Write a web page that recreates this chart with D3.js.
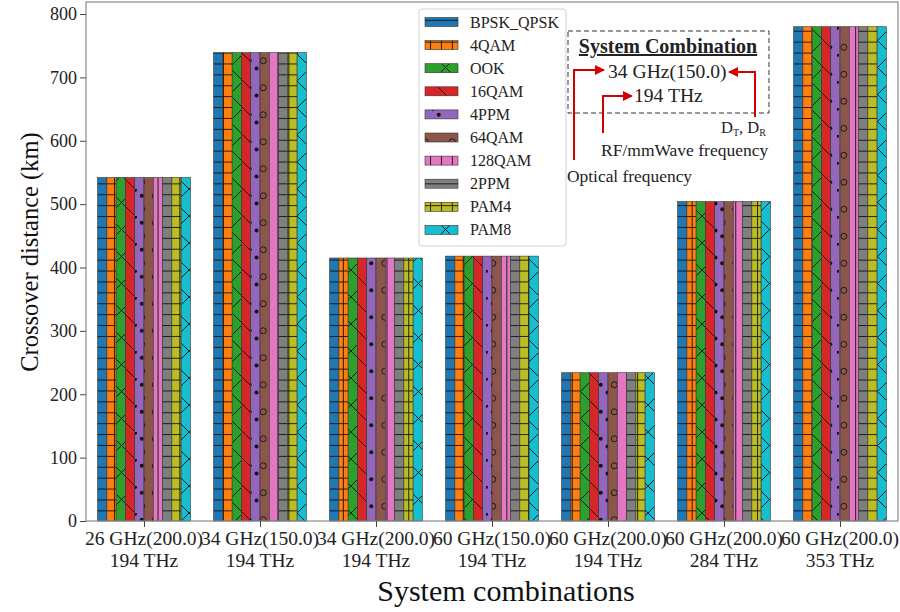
<!DOCTYPE html>
<html>
<head>
<meta charset="utf-8">
<script src="https://cdn.jsdelivr.net/npm/d3@7"></script>
<style>
  html, body { margin: 0; padding: 0; background: #fff; }
  svg { display: block; font-family: "Liberation Serif", "Times New Roman", serif; }
</style>
</head>
<body>
<svg id="chart" width="900" height="612"></svg>
<script>
// System combinations (two-line tick labels)
const combosTop = ["26 GHz(200.0)", "34 GHz(150.0)", "34 GHz(200.0)", "60 GHz(150.0)", "60 GHz(200.0)", "60 GHz(200.0)", "60 GHz(200.0)"];
const combosBottom = ["194 THz", "194 THz", "194 THz", "194 THz", "194 THz", "284 THz", "353 THz"];

// Modulation formats
const formats = ["BPSK_QPSK", "4QAM", "OOK", "16QAM", "4PPM", "64QAM", "128QAM", "2PPM", "PAM4", "PAM8"];
const formatColors = ["#1f77b4", "#ff7f0e", "#2ca02c", "#d62728", "#9467bd", "#8c564b", "#e377c2", "#7f7f7f", "#bcbd22", "#17becf"];
const formatHatches = ["-", "+", "x", "\\", ".", "o", "|", "-", "+", "x"];

// Crossover distance (km) per combination, one row per format
const crossover = [
  [542, 739, 415, 418, 234, 504, 780],
  [542, 739, 415, 418, 234, 504, 780],
  [542, 739, 415, 418, 234, 504, 780],
  [542, 739, 415, 418, 234, 504, 780],
  [542, 739, 415, 418, 234, 504, 780],
  [542, 739, 415, 418, 234, 504, 780],
  [542, 739, 415, 418, 234, 504, 780],
  [542, 739, 415, 418, 234, 504, 780],
  [542, 739, 415, 418, 234, 504, 780],
  [542, 739, 415, 418, 234, 504, 780]
];

const yTicks = [0, 100, 200, 300, 400, 500, 600, 700, 800];

const svg = d3.select("#chart");
const margin = { left: 86, right: 2, top: 2, bottom: 91 };
const W = 900, H = 612;
const plotW = W - margin.left - margin.right;
const plotH = H - margin.top - margin.bottom;

const x = d3.scaleLinear().domain([-0.5, combosTop.length - 0.5]).range([margin.left, margin.left + plotW]);
const y = d3.scaleLinear().domain([0, 819]).range([margin.top + plotH, margin.top]);
const barW = 0.08;

// Hatch patterns, aligned to the page so neighbouring bars share the grid
const defs = svg.append("defs");
const S = 10.9, D = 27, hatchColor = "#111", hw = 0.9;
formats.forEach((f, i) => {
  const h = formatHatches[i];
  const c = formatColors[i];
  let p;
  if (h === "-" || h === "+" || h === "|") {
    p = defs.append("pattern").attr("id", "hatch" + i).attr("patternUnits", "userSpaceOnUse")
      .attr("width", S).attr("height", S).attr("x", 0).attr("y", 4);
    p.append("rect").attr("width", S).attr("height", S).attr("fill", c);
    if (h === "-" || h === "+") p.append("line").attr("x1", 0).attr("x2", S).attr("y1", S / 2).attr("y2", S / 2)
      .attr("stroke", hatchColor).attr("stroke-width", hw);
    if (h === "|" || h === "+") p.append("line").attr("y1", 0).attr("y2", S).attr("x1", S / 2).attr("x2", S / 2)
      .attr("stroke", hatchColor).attr("stroke-width", hw);
  } else {
    p = defs.append("pattern").attr("id", "hatch" + i).attr("patternUnits", "userSpaceOnUse")
      .attr("width", D).attr("height", D).attr("x", 0).attr("y", 0);
    p.append("rect").attr("width", D).attr("height", D).attr("fill", c);
    if (h === "x" || h === "\\") {
      p.append("path").attr("d", `M0,0L${D},${D}M${-D / 2},${D / 2}L${D / 2},${D * 1.5}M${D / 2},${-D / 2}L${D * 1.5},${D / 2}`)
        .attr("stroke", hatchColor).attr("stroke-width", hw).attr("fill", "none");
    }
    if (h === "x") {
      p.append("path").attr("d", `M0,${D}L${D},0M${-D / 2},${D / 2}L${D / 2},${-D / 2}M${D / 2},${D * 1.5}L${D * 1.5},${D / 2}`)
        .attr("stroke", hatchColor).attr("stroke-width", hw).attr("fill", "none");
    }
    if (h === ".") {
      [[D / 4, D / 4], [D * 3 / 4, D * 3 / 4], [D / 2, D / 2 + 1], [0, 1]].forEach(([cx, cy]) =>
        p.append("circle").attr("cx", cx).attr("cy", cy).attr("r", 2).attr("fill", hatchColor));
    }
    if (h === "o") {
      [[D / 4, D * 3 / 4], [D * 3 / 4, D / 4]].forEach(([cx, cy]) =>
        p.append("circle").attr("cx", cx).attr("cy", cy).attr("r", 3).attr("fill", "none")
          .attr("stroke", hatchColor).attr("stroke-width", hw));
    }
  }
});

// Bars
const g = svg.append("g");
formats.forEach((f, i) => {
  g.selectAll(".bar" + i)
    .data(crossover[i])
    .join("rect")
    .attr("x", (d, j) => x(j - 0.4 + i * barW))
    .attr("width", x(barW) - x(0))
    .attr("y", d => y(d))
    .attr("height", d => y(0) - y(d))
    .attr("fill", `url(#hatch${i})`)
    .attr("stroke", "#333")
    .attr("stroke-width", 0.6);
});

// Frame
svg.append("rect").attr("x", margin.left).attr("y", margin.top).attr("width", plotW).attr("height", plotH)
  .attr("fill", "none").attr("stroke", "#8a8a8a").attr("stroke-width", 1.2);

// Y axis
const yAxis = svg.append("g").attr("transform", `translate(${margin.left},0)`)
  .call(d3.axisLeft(y).tickValues(yTicks).tickSize(6).tickPadding(3));
yAxis.select(".domain").remove();
yAxis.selectAll("line").attr("stroke", "#444");
yAxis.selectAll("text").attr("font-size", 18).attr("font-family", "Liberation Serif").attr("fill", "#222");

// X axis
const xAxis = svg.append("g").attr("transform", `translate(0,${margin.top + plotH})`)
  .call(d3.axisBottom(x).tickValues(d3.range(combosTop.length)).tickSize(6).tickFormat(""));
xAxis.select(".domain").remove();
xAxis.selectAll("line").attr("stroke", "#444");
const xl = svg.append("g").attr("font-size", 19.5).attr("fill", "#222").attr("text-anchor", "middle");
combosTop.forEach((t, j) => {
  const tx = xl.append("text").attr("x", x(j)).attr("y", 545);
  tx.append("tspan").attr("x", x(j)).text(t);
  tx.append("tspan").attr("x", x(j)).attr("dy", 22).text(combosBottom[j]);
});

// Axis titles
svg.append("text").attr("x", 506).attr("y", 601).attr("text-anchor", "middle")
  .attr("font-size", 30).attr("fill", "#111").text("System combinations");
svg.append("text").attr("transform", "translate(38,252) rotate(-90)").attr("text-anchor", "middle")
  .attr("font-size", 24.5).attr("fill", "#111").text("Crossover distance (km)");

// Legend
const lg = svg.append("g");
lg.append("rect").attr("x", 419).attr("y", 9).attr("width", 147).attr("height", 237).attr("rx", 3)
  .attr("fill", "#fff").attr("stroke", "#d0d0d0");
formats.forEach((f, i) => {
  const cy = 22 + i * 23.1;
  lg.append("rect").attr("x", 425).attr("y", cy - 4.5).attr("width", 33).attr("height", 9)
    .attr("fill", `url(#hatch${i})`).attr("stroke", "#333").attr("stroke-width", 0.6);
  lg.append("text").attr("x", 470).attr("y", cy + 5.5).attr("font-size", 16).attr("fill", "#222").text(f);
});

// Annotation explaining the label format
const an = svg.append("g").attr("fill", "#222");
an.append("rect").attr("x", 568).attr("y", 31).attr("width", 201).attr("height", 82)
  .attr("fill", "none").attr("stroke", "#333").attr("stroke-width", 1).attr("stroke-dasharray", "5,3");
an.append("text").attr("x", 668).attr("y", 53).attr("text-anchor", "middle").attr("font-size", 20)
  .attr("font-weight", "bold").attr("text-decoration", "underline").text("System Combination");
an.append("text").attr("x", 608).attr("y", 78).attr("font-size", 19.6).text("34 GHz(150.0)");
an.append("text").attr("x", 634).attr("y", 102).attr("font-size", 19.6).text("194 THz");
const dt = an.append("text").attr("x", 721).attr("y", 133).attr("font-size", 16.5);
dt.append("tspan").text("D");
dt.append("tspan").attr("font-size", 10).attr("dy", 2.5).text("T");
dt.append("tspan").attr("dy", -2.5).text(", D");
dt.append("tspan").attr("font-size", 10).attr("dy", 2.5).text("R");
an.append("text").attr("x", 601).attr("y", 156).attr("font-size", 17.5).text("RF/mmWave frequency");
an.append("text").attr("x", 567).attr("y", 182).attr("font-size", 17.4).text("Optical frequency");

const red = "#d40000";
defs.append("marker").attr("id", "arrowHead").attr("viewBox", "0 0 10 10").attr("refX", 9).attr("refY", 5)
  .attr("markerWidth", 5).attr("markerHeight", 5).attr("orient", "auto")
  .append("path").attr("d", "M0,0L10,5L0,10Z").attr("fill", red);
const arrows = [
  [[574, 160], [574, 70], [604, 70]],
  [[603, 133], [603, 96], [632, 96]],
  [[755, 117], [755, 72], [729, 72]]
];
arrows.forEach(pts => {
  svg.append("path").attr("d", d3.line()(pts)).attr("fill", "none").attr("stroke", red)
    .attr("stroke-width", 2).attr("marker-end", "url(#arrowHead)");
});
</script>
</body>
</html>
